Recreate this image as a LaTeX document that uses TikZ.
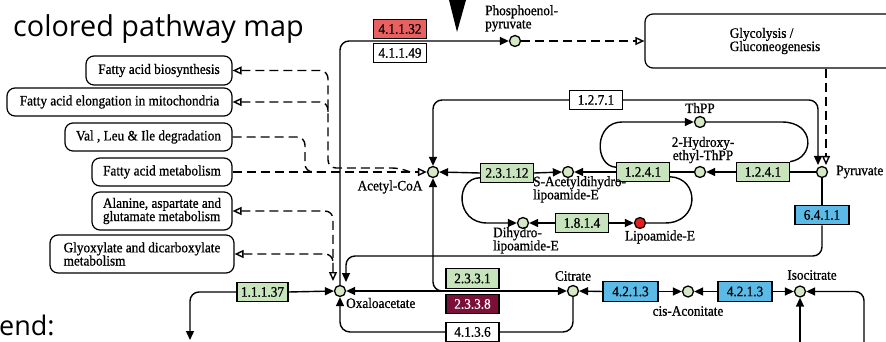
\documentclass[tikz,border=0pt]{standalone}
\usepackage{fontspec}
\setmainfont{Liberation Serif}
\newfontfamily\kegg{Liberation Serif}[FakeBold=0.8, FakeStretch=0.92]
\newfontfamily\titlefont{Open Sans}
\usetikzlibrary{arrows.meta,backgrounds}
\definecolor{egreen}{RGB}{200,228,188}
\definecolor{ered}{RGB}{232,96,96}
\definecolor{eblue}{RGB}{92,186,230}
\definecolor{emaroon}{RGB}{122,16,56}
\definecolor{cfill}{RGB}{214,232,196}
\definecolor{cred}{RGB}{228,30,30}
\tikzset{
  ftip/.tip={Triangle[length=9pt,width=8pt]},
  otip/.tip={Triangle[open,length=9pt,width=8pt]}
}
\begin{document}
\begin{tikzpicture}[x=1pt,y=-1pt,
  every node/.style={font=\kegg\fontsize{14.4}{13.2}\selectfont},
  ebox/.style={draw, line width=1.2pt, minimum width=53pt, minimum height=19.5pt, inner sep=0pt},
  cpd/.style={circle, draw, line width=1.3pt, fill=cfill, minimum size=11pt, inner sep=0pt},
  mapbox/.style={draw, line width=1.2pt, rounded corners=8pt, inner sep=0pt},
  lbl/.style={inner sep=0pt, align=left},
  ln/.style={line width=1.4pt},
  rx/.style={ln, -{ftip}},
  dsh/.style={line width=1.4pt, dash pattern=on 9pt off 5pt}
]
\useasboundingbox (0,0) rectangle (886,342);
\clip (0,0) rectangle (886,342);

% title and legend
\node[anchor=base west, inner sep=0pt, font=\titlefont\fontsize{28.8}{30}\selectfont] (title) at (13,37) {colored pathway map};
\node[anchor=base west, inner sep=0pt, font=\titlefont\fontsize{27}{30}\selectfont] (legend) at (-1,335) {end:};
\fill (449,0) -- (466,0) -- (457,32) -- cycle;

% map boxes
\node[mapbox, minimum width=146pt, minimum height=29pt, align=center] (fab) at (159,70.5) {Fatty acid biosynthesis};
\node[mapbox, minimum width=225pt, minimum height=28pt, align=center] (fae) at (119.5,102) {Fatty acid elongation in mitochondria};
\node[mapbox, minimum width=167pt, minimum height=28pt, align=center] (vli) at (148.5,137) {Val , Leu \& Ile degradation};
\node[mapbox, minimum width=140pt, minimum height=28pt, align=center] (fam) at (162,172) {Fatty acid metabolism};
\node[mapbox, minimum width=140pt, minimum height=38pt, align=left] (aas) at (162,211) {Alanine, aspartate and\\glutamate metabolism};
\node[mapbox, minimum width=184pt, minimum height=38pt, align=left] (gdm) at (142,254) {Glyoxylate and dicarboxylate\\metabolism};
\node[mapbox, minimum width=260pt, minimum height=54pt, align=left] (gly) at (775,41) {Glycolysis /\\Gluconeogenesis};

% enzyme boxes
\node[ebox, fill=ered] (e41132) at (400,29) {4.1.1.32};
\node[ebox, fill=white] (e41149) at (400,53) {4.1.1.49};
\node[ebox, fill=white] (e1271) at (596,100) {1.2.7.1};
\node[ebox, fill=egreen] (e23112) at (507,173) {2.3.1.12};
\node[ebox, fill=egreen] (e1241a) at (643,172) {1.2.4.1};
\node[ebox, fill=egreen] (e1241b) at (763,172) {1.2.4.1};
\node[ebox, fill=eblue, minimum width=54pt] (e6411) at (822,215) {6.4.1.1};
\node[ebox, fill=egreen] (e1814) at (582,223) {1.8.1.4};
\node[ebox, fill=egreen] (e2331) at (472.5,278.5) {2.3.3.1};
\node[ebox, fill=emaroon, text=white] (e2338) at (472.5,304) {2.3.3.8};
\node[ebox, fill=white] (e4136) at (472.5,332) {4.1.3.6};
\node[ebox, fill=egreen, minimum width=51pt] (e11137) at (262.5,292) {1.1.1.37};
\node[ebox, fill=eblue, minimum width=55pt] (e4213a) at (630.5,291.5) {4.2.1.3};
\node[ebox, fill=eblue, minimum width=54pt] (e4213b) at (745,291.5) {4.2.1.3};

% compounds
\node[cpd] (pep) at (515,41) {};
\node[cpd] (acoa) at (433,172) {};
\node[cpd] (sacet) at (568,172) {};
\node[cpd] (hethpp) at (700,172) {};
\node[cpd] (thpp) at (700,122) {};
\node[cpd] (pyr) at (822,172) {};
\node[cpd] (dhl) at (523,223) {};
\node[cpd, fill=cred] (lip) at (640,223) {};
\node[cpd] (oaa) at (340,291) {};
\node[cpd] (cit) at (573,291) {};
\node[cpd] (cis) at (688,291.5) {};
\node[cpd] (iso) at (800,291.5) {};

% compound labels
\node[lbl, anchor=north west] (lpep) at (485,5) {Phosphoenol-\\pyruvate};
\node[lbl] (lthpp) at (700,108) {ThPP};
\node[lbl, align=center] (lhet) at (703,150) {2-Hydroxy-\\ethyl-ThPP};
\node[lbl, anchor=north west] (lsac) at (533,176) {S-Acetyldihydro-\\lipoamide-E};
\node[lbl, anchor=west] (lpyr) at (836,172) {Pyruvate};
\node[lbl] (lacoa) at (390,187) {Acetyl-CoA};
\node[lbl, anchor=north west] (ldhl) at (493,227) {Dihydro-\\lipoamide-E};
\node[lbl] (llip) at (660,237) {Lipoamide-E};
\node[lbl, anchor=west] (loaa) at (346,303) {Oxaloacetate};
\node[lbl] (lcit) at (573,276) {Citrate};
\node[lbl] (lcis) at (688,311) {cis-Aconitate};
\node[lbl] (liso) at (812,275) {Isocitrate};

% free ends
\coordinate (pyrin1) at (826,165);
\coordinate (pyrin2) at (818,165);
\coordinate (oaain1) at (333,281);
\coordinate (oaain2) at (346,282);
\coordinate (mergeA) at (410,172);
\coordinate (mergeB) at (328,112);
\coordinate (mergeC) at (318,172);
\coordinate (mergeD) at (333,264);
\coordinate (cs) at (447,291);
\coordinate (down1) at (190,340);
\coordinate (r1) at (864,350);
\coordinate (b1) at (800,350);

\begin{scope}[on background layer]
% PEP carboxykinase
\draw[rx, rounded corners=9pt] (oaa.north) -- (oaa.north |- pep) -- (pep.west);
\draw[dsh, -{otip}] (pep.east) -- (gly.west);
\draw[dsh, -{otip}] (gly.south -| pyrin1) -- (pyrin1);
% 1.2.7.1
\draw[ln, {ftip}-, rounded corners=9pt] (acoa.north) |- (e1271.west);
\draw[rx, rounded corners=9pt] (e1271.east) -| (pyrin2);
% dashed links to Acetyl-CoA
\draw[dsh, {otip}-, rounded corners=8pt] (fab.east) -- (328,70.5) -- (328,168) -- (400,168) -- (mergeA);
\draw[dsh, {otip}-, rounded corners=8pt] (fae.east) -- (328,102) -- (mergeB);
\draw[dsh, rounded corners=8pt] (vli.east) -- (305,137) -- (305,172) -- (mergeC);
\draw[dsh, -{otip}] (fam.east) -- (acoa.west);
% dashed links to Oxaloacetate
\draw[dsh, {otip}-{otip}, rounded corners=8pt] (aas.east) -- (333,211) -- (oaain1);
\draw[dsh, {otip}-, rounded corners=8pt] (gdm.east) -- (333,254) -- (mergeD);
% pyruvate carboxylase
\draw[ln] (pyr.south) -- (e6411.north);
\draw[rx, rounded corners=9pt] (e6411.south) -- (822,256) -- (346,256) -- (oaain2);
% citrate synthase
\draw[ln, {ftip}-, rounded corners=9pt] (acoa.south) |- (cs);
\draw[ln, {ftip}-{ftip}] (oaa.east) -- (cit.west);
\draw[ln, rounded corners=10pt] (cit.south) |- (e4136.east);
\draw[rx, rounded corners=10pt] (e4136.west) -| (oaa.south);
% malate dehydrogenase
\draw[rx] (e11137.east) -- (oaa.west);
\draw[rx, rounded corners=9pt] (e11137.west) -| (down1);
% aconitase
\draw[rx] (e4213a.west) -- (cit.east);
\draw[rx] (e4213a.east) -- (cis.west);
\draw[rx] (e4213b.west) -- (cis.east);
\draw[rx] (e4213b.east) -- (iso.west);
\draw[ln, {ftip}-, rounded corners=9pt] (iso.east) -| (r1);
\draw[ln, {ftip}-] (iso.south) -- (b1);
% pyruvate dehydrogenase complex
\draw[rx] (e23112.west) -- (acoa.east);
\draw[rx] (e23112.east) -- (sacet.west);
\draw[rx] (e1241a.west) -- (sacet.east);
\draw[ln] (e1241a.east) -- (hethpp.west);
\draw[rx] (e1241b.west) -- (hethpp.east);
\draw[ln] (e1241b.east) -- (pyr.west);
\draw[rx] (e1241a.170) .. controls (594,166) and (594,122) .. (622,122) -- (thpp.west);
\draw[ln] (thpp.east) -- (782,122) .. controls (815,122) and (815,158) .. (e1241b.north east);
\draw[rx] (e23112.190) .. controls (455,178) and (455,223) .. (487,223) -- (dhl.west);
\draw[rx] (e1814.west) -- (dhl.east);
\draw[rx] (e1814.east) -- (lip.west);
\draw[ln] (lip.east) -- (665,223) .. controls (700,223) and (700,178) .. (e1241a.350);
\end{scope}
\end{tikzpicture}
\end{document}
